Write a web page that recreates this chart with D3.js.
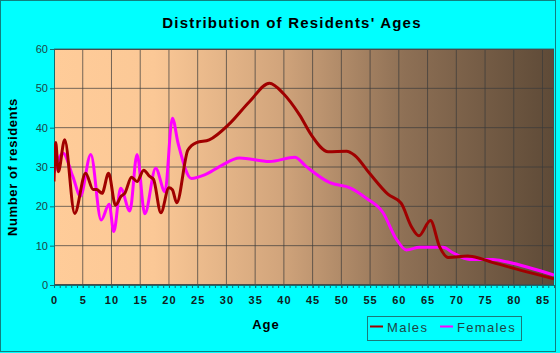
<!DOCTYPE html>
<html>
<head>
<meta charset="utf-8">
<script src="https://cdn.jsdelivr.net/npm/d3@7"></script>
<style>
  body { margin: 0; background: #00ffff; }
  svg { display: block; font-family: Arial, "Liberation Sans", sans-serif; }
</style>
</head>
<body>
<div id="chart"></div>
<script>
// values
const maleAges   = [0, 0.3, 0.75, 1.86, 3.6, 5.5, 6.8, 7.4, 8.35, 9.5, 10.7, 11.7, 12.3, 13.5, 14.45, 15.6, 16.65, 17.3, 18.6, 20, 20.6, 21.35, 23.3, 24.8, 27, 30.6, 34, 37.5, 39.9, 42.75, 44.8, 47.7, 50.9, 52.3, 54.9, 58.1, 60.4, 62.2, 63.5, 65.5, 67.1, 68.6, 72, 76.4, 81.6, 87];
const maleValues = [26.3, 36.2, 28.8, 36.9, 18.2, 28.4, 24.3, 24.3, 23.3, 28.4, 20.3, 22.6, 23.3, 27.4, 26.3, 29.2, 27.6, 26.9, 18.4, 24.7, 24.2, 20.9, 34.3, 36.2, 36.9, 41.1, 46.6, 51.3, 48.7, 43.2, 38.1, 33.9, 34.0, 33.0, 28.4, 23.1, 20.8, 14.8, 12.5, 16.4, 9.7, 7.0, 7.4, 5.7, 3.6, 1.6];

const femaleAges   = [0, 1.57, 3.3, 4.6, 6.4, 8.2, 9.6, 10.4, 11.6, 13.2, 14.45, 15.8, 17.7, 19.3, 20.6, 21.6, 23.9, 26.2, 28.8, 32.3, 37.5, 41.9, 43.9, 48, 51.5, 54.4, 57.2, 59.6, 61.3, 63.6, 67.7, 69.4, 72.3, 76.4, 78.7, 87];
const femaleValues = [28.5, 33.5, 27.5, 22.6, 33.2, 16.5, 20.5, 13.6, 24.6, 18.8, 33.2, 18.1, 29.7, 23.7, 42.4, 36.0, 27.1, 28, 30.1, 32.3, 31.4, 32.5, 30.1, 26.0, 24.7, 22.0, 18.5, 11.6, 8.9, 9.6, 9.6, 8.2, 6.5, 6.5, 5.9, 2.5];

const xTicks = d3.range(0, 86, 5);
const yTicks = [0, 10, 20, 30, 40, 50, 60];

const W = 560, H = 353;
const plotL = 54, plotR = 554, plotT = 49, plotB = 285;

const svg = d3.select("#chart").append("svg")
    .attr("width", W)
    .attr("height", H);

svg.append("rect")
    .attr("x", 0.5).attr("y", 0.5)
    .attr("width", 555).attr("height", 351)
    .attr("fill", "#00ffff")
    .attr("stroke", "#108080");

const x = d3.scaleLinear().domain([0, 87]).range([plotL, plotR]);
const y = d3.scaleLinear().domain([0, 60]).range([plotB, plotT]);

const defs = svg.append("defs");
const grad = defs.append("linearGradient")
    .attr("id", "bg")
    .attr("x1", "0%").attr("x2", "100%").attr("y1", "0%").attr("y2", "0%");
[[0, "#ffcc99"], [0.2, "#fbc896"], [0.45, "#d2a57c"], [0.7, "#8e7055"], [1, "#5e4a37"]]
    .forEach(s => grad.append("stop").attr("offset", s[0]).attr("stop-color", s[1]));

defs.append("clipPath").attr("id", "clip")
    .append("rect")
    .attr("x", plotL).attr("y", plotT)
    .attr("width", plotR - plotL).attr("height", plotB - plotT);

svg.append("rect")
    .attr("x", plotL).attr("y", plotT)
    .attr("width", plotR - plotL).attr("height", plotB - plotT)
    .attr("fill", "url(#bg)");

// gridlines
svg.append("g")
    .selectAll("line")
    .data(xTicks.filter(d => d > 0))
    .join("line")
    .attr("x1", d => x(d)).attr("x2", d => x(d))
    .attr("y1", plotT).attr("y2", plotB)
    .attr("stroke", "#3a3a3a").attr("stroke-opacity", 0.7);

svg.append("g")
    .selectAll("line")
    .data(yTicks.filter(d => d > 0))
    .join("line")
    .attr("x1", plotL).attr("x2", plotR)
    .attr("y1", d => y(d)).attr("y2", d => y(d))
    .attr("stroke", "#3a3a3a").attr("stroke-opacity", 0.7);

svg.append("rect")
    .attr("x", plotL + 0.5).attr("y", plotT + 0.5)
    .attr("width", plotR - plotL - 1).attr("height", plotB - plotT - 1)
    .attr("fill", "none")
    .attr("stroke", "#4a4a4a");

// axes
const axisColor = "#107070";
const yAxis = svg.append("g")
    .attr("transform", `translate(${plotL},0)`)
    .call(d3.axisLeft(y).tickValues(yTicks).tickSize(4).tickPadding(2));
yAxis.select(".domain").attr("stroke", axisColor);
yAxis.selectAll(".tick line").attr("stroke", axisColor);
yAxis.selectAll("text")
    .attr("fill", "#1d4545")
    .style("font-size", "11px");

const xMinor = svg.append("g")
    .attr("transform", `translate(0,${plotB})`)
    .call(d3.axisBottom(x).tickValues(d3.range(0, 88, 1)).tickSize(3).tickFormat(""));
xMinor.select(".domain").remove();
xMinor.selectAll(".tick line").attr("stroke", axisColor);

const xAxis = svg.append("g")
    .attr("transform", `translate(0,${plotB})`)
    .call(d3.axisBottom(x).tickValues(xTicks).tickSize(3).tickPadding(8));
xAxis.select(".domain").attr("stroke", axisColor).attr("d", `M${plotL},0.5H${plotR}`);
xAxis.selectAll(".tick line").attr("stroke", axisColor);
xAxis.selectAll("text")
    .attr("fill", "#102020")
    .style("font-size", "11px")
    .style("font-weight", "bold")
    .style("letter-spacing", "1px");

// lines
const line = d3.line()
    .x(d => x(d[0]))
    .y(d => y(d[1]))
    .curve(d3.curveMonotoneX);

const lines = svg.append("g").attr("clip-path", "url(#clip)");

lines.append("path")
    .datum(femaleAges.map((a, i) => [a, femaleValues[i]]))
    .attr("d", line)
    .attr("fill", "none")
    .attr("stroke", "#ff00ff")
    .attr("stroke-width", 3);

lines.append("path")
    .datum(maleAges.map((a, i) => [a, maleValues[i]]))
    .attr("d", line)
    .attr("fill", "none")
    .attr("stroke", "#a00000")
    .attr("stroke-width", 3);

// titles
svg.append("text")
    .attr("x", 292).attr("y", 28)
    .attr("text-anchor", "middle")
    .style("font-size", "15px")
    .style("font-weight", "bold")
    .style("letter-spacing", "1.2px")
    .attr("fill", "#000")
    .text("Distribution of Residents' Ages");

svg.append("text")
    .attr("transform", "translate(17,167) rotate(-90)")
    .attr("text-anchor", "middle")
    .style("font-size", "13px")
    .style("font-weight", "bold")
    .style("letter-spacing", "0.6px")
    .attr("fill", "#000")
    .text("Number of residents");

svg.append("text")
    .attr("x", 266).attr("y", 329)
    .attr("text-anchor", "middle")
    .style("font-size", "13px")
    .style("font-weight", "bold")
    .style("letter-spacing", "1px")
    .attr("fill", "#000")
    .text("Age");

// legend
const legend = svg.append("g");
legend.append("rect")
    .attr("x", 367.5).attr("y", 316.5)
    .attr("width", 154).attr("height", 24)
    .attr("fill", "none")
    .attr("stroke", "#1a7a7a");

const legendItems = [
    {label: "Males", color: "#a00000", x: 370},
    {label: "Females", color: "#ff00ff", x: 440}
];
legendItems.forEach(it => {
    legend.append("line")
        .attr("x1", it.x).attr("x2", it.x + 13)
        .attr("y1", 326.5).attr("y2", 326.5)
        .attr("stroke", it.color)
        .attr("stroke-width", 2);
    legend.append("text")
        .attr("x", it.x + 17).attr("y", 332)
        .style("font-size", "13px")
        .style("letter-spacing", "1.3px")
        .attr("fill", "#1d4545")
        .text(it.label);
});
</script>
</body>
</html>
